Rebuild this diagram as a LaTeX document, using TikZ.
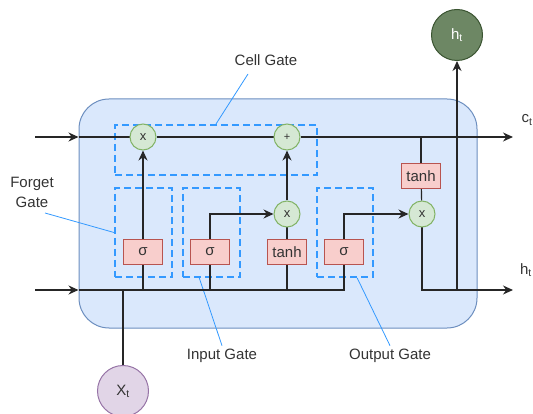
\documentclass[tikz,border=0pt]{standalone}
\usepackage{fontspec}
\setmainfont{Liberation Sans}
\usetikzlibrary{arrows.meta,backgrounds}

\definecolor{cellfill}{HTML}{DAE8FC}
\definecolor{cellline}{HTML}{6C8EBF}
\definecolor{multfill}{HTML}{D5E8D4}
\definecolor{multline}{HTML}{82B366}
\definecolor{actfill}{HTML}{F8CECC}
\definecolor{actline}{HTML}{B85450}
\definecolor{gateblue}{HTML}{3399FF}
\definecolor{hfill}{HTML}{6D8764}
\definecolor{hline}{HTML}{3A5431}
\definecolor{xfill}{HTML}{E1D5E7}
\definecolor{xline}{HTML}{9673A6}
\definecolor{textgray}{HTML}{333333}

\begin{document}
\begin{tikzpicture}
[x=1pt,y=-1pt,
every node/.style={font=\fontsize{15}{20}\selectfont},
cellbox/.style={
	draw=cellline,
	fill=cellfill,
	line width=1pt,
	rounded corners=30pt,
	minimum width=398pt,
	minimum height=229pt,
    },
gatebox/.style={draw=gateblue, line width=2pt, dash pattern=on 7pt off 4pt, inner sep=0pt},
mult/.style={circle, draw=multline, fill=multfill, line width=1pt, minimum size=26pt, inner sep=0pt, text=textgray},
act/.style={draw=actline, fill=actfill, line width=1pt, minimum width=39pt, minimum height=25pt, inner sep=0pt, text=textgray},
state/.style={circle, line width=1pt, minimum size=51pt, inner sep=0pt},
gatename/.style={text=textgray},
leader/.style={draw=gateblue, line width=0.8pt},
flow/.style={draw=black!85, line width=1.2pt},
arr/.style={flow, -{Stealth[length=10pt,width=9pt]}},
]
\useasboundingbox (0,0) rectangle (533,414);

% the cell and the dashed gates
\begin{scope}[on background layer]
\node[cellbox] (cell) at (278,213.5){};
\node[gatebox, minimum width=202pt, minimum height=50pt] (cgbox) at (216,150){};
\node[gatebox, minimum width=57pt, minimum height=89pt] (fgbox) at (143.5,232.5){};
\node[gatebox, minimum width=57pt, minimum height=89pt] (igbox) at (211.5,232.5){};
\node[gatebox, minimum width=56pt, minimum height=89pt] (ogbox) at (345,232.5){};
\end{scope}

% operations
\node[mult, font=\fontsize{13}{13}\selectfont] (fmul) at (143,137){x};
\node[mult, font=\fontsize{11}{11}\selectfont] (add) at (287,137){+};
\node[mult, font=\fontsize{13}{13}\selectfont] (imul) at (287,214){x};
\node[mult, font=\fontsize{13}{13}\selectfont] (omul) at (422,214){x};
\node[act] (fsig) at (143,252){σ};
\node[act] (isig) at (210,252){σ};
\node[act] (ctanh) at (287,252){tanh};
\node[act] (osig) at (344,252){σ};
\node[act] (otanh) at (421,176){tanh};

% states in and out
\node[state, draw=hline, fill=hfill, text=white] (hnode) at (457,35){h\textsubscript{t}};
\node[state, draw=xline, fill=xfill, text=textgray] (xnode) at (123,391){X\textsubscript{t}};
\coordinate (cin) at (35,137);
\coordinate (cout) at (513,137);
\coordinate (hin) at (35,290);
\coordinate (hout) at (513,290);

% labels
\node[gatename] (cglabel) at (266,60){Cell Gate};
\node[gatename, align=center] (fglabel) at (32,192){Forget\\Gate};
\node[gatename] (iglabel) at (222,356){Input Gate};
\node[gatename] (oglabel) at (390,356){Output Gate};
\node[gatename] (ctlabel) at (527,120){c\textsubscript{t}};
\node[gatename] (htlabel) at (526,270){h\textsubscript{t}};

\begin{scope}[on background layer]
%draw leaders
\coordinate (cgfoot) at (248,74);
\coordinate (fgfoot) at (45,213);
\draw[leader] (cgfoot) -- (cgbox.north);
\draw[leader] (fgfoot) -- (fgbox.west);
\draw[leader] (igbox.-105) -- (iglabel.north);
\draw[leader] (ogbox.-75) -- (oglabel.north);

%draw lines
\draw[arr] (cin) -- (cin -| cell.west);
\draw[flow] (cin -| cell.west) -- (fmul);
\draw[flow] (fmul) -- (add);
\draw[arr] (add) -- (cout);
\draw[arr] (hin) -- (hin -| cell.west);
\draw[flow] (hin -| cell.west) -| (osig);
\draw[flow] (xnode) -- (hin -| xnode);
\draw[flow] (hin -| fsig) -- (fsig);
\draw[arr] (fsig) -- (fmul);
\draw[flow] (hin -| isig) -- (isig);
\draw[arr] (isig) |- (imul);
\draw[flow] (hin -| ctanh) -- (ctanh);
\draw[flow] (ctanh) -- (imul);
\draw[arr] (imul) -- (add);
\draw[arr] (osig) |- (omul);
\draw[flow] (cout -| otanh) -- (otanh);
\draw[flow] (otanh) -- (omul);
\draw[arr] (omul) |- (hout);
\draw[arr] (hout -| hnode) -- (hnode);
\end{scope}
\end{tikzpicture}
\end{document}
